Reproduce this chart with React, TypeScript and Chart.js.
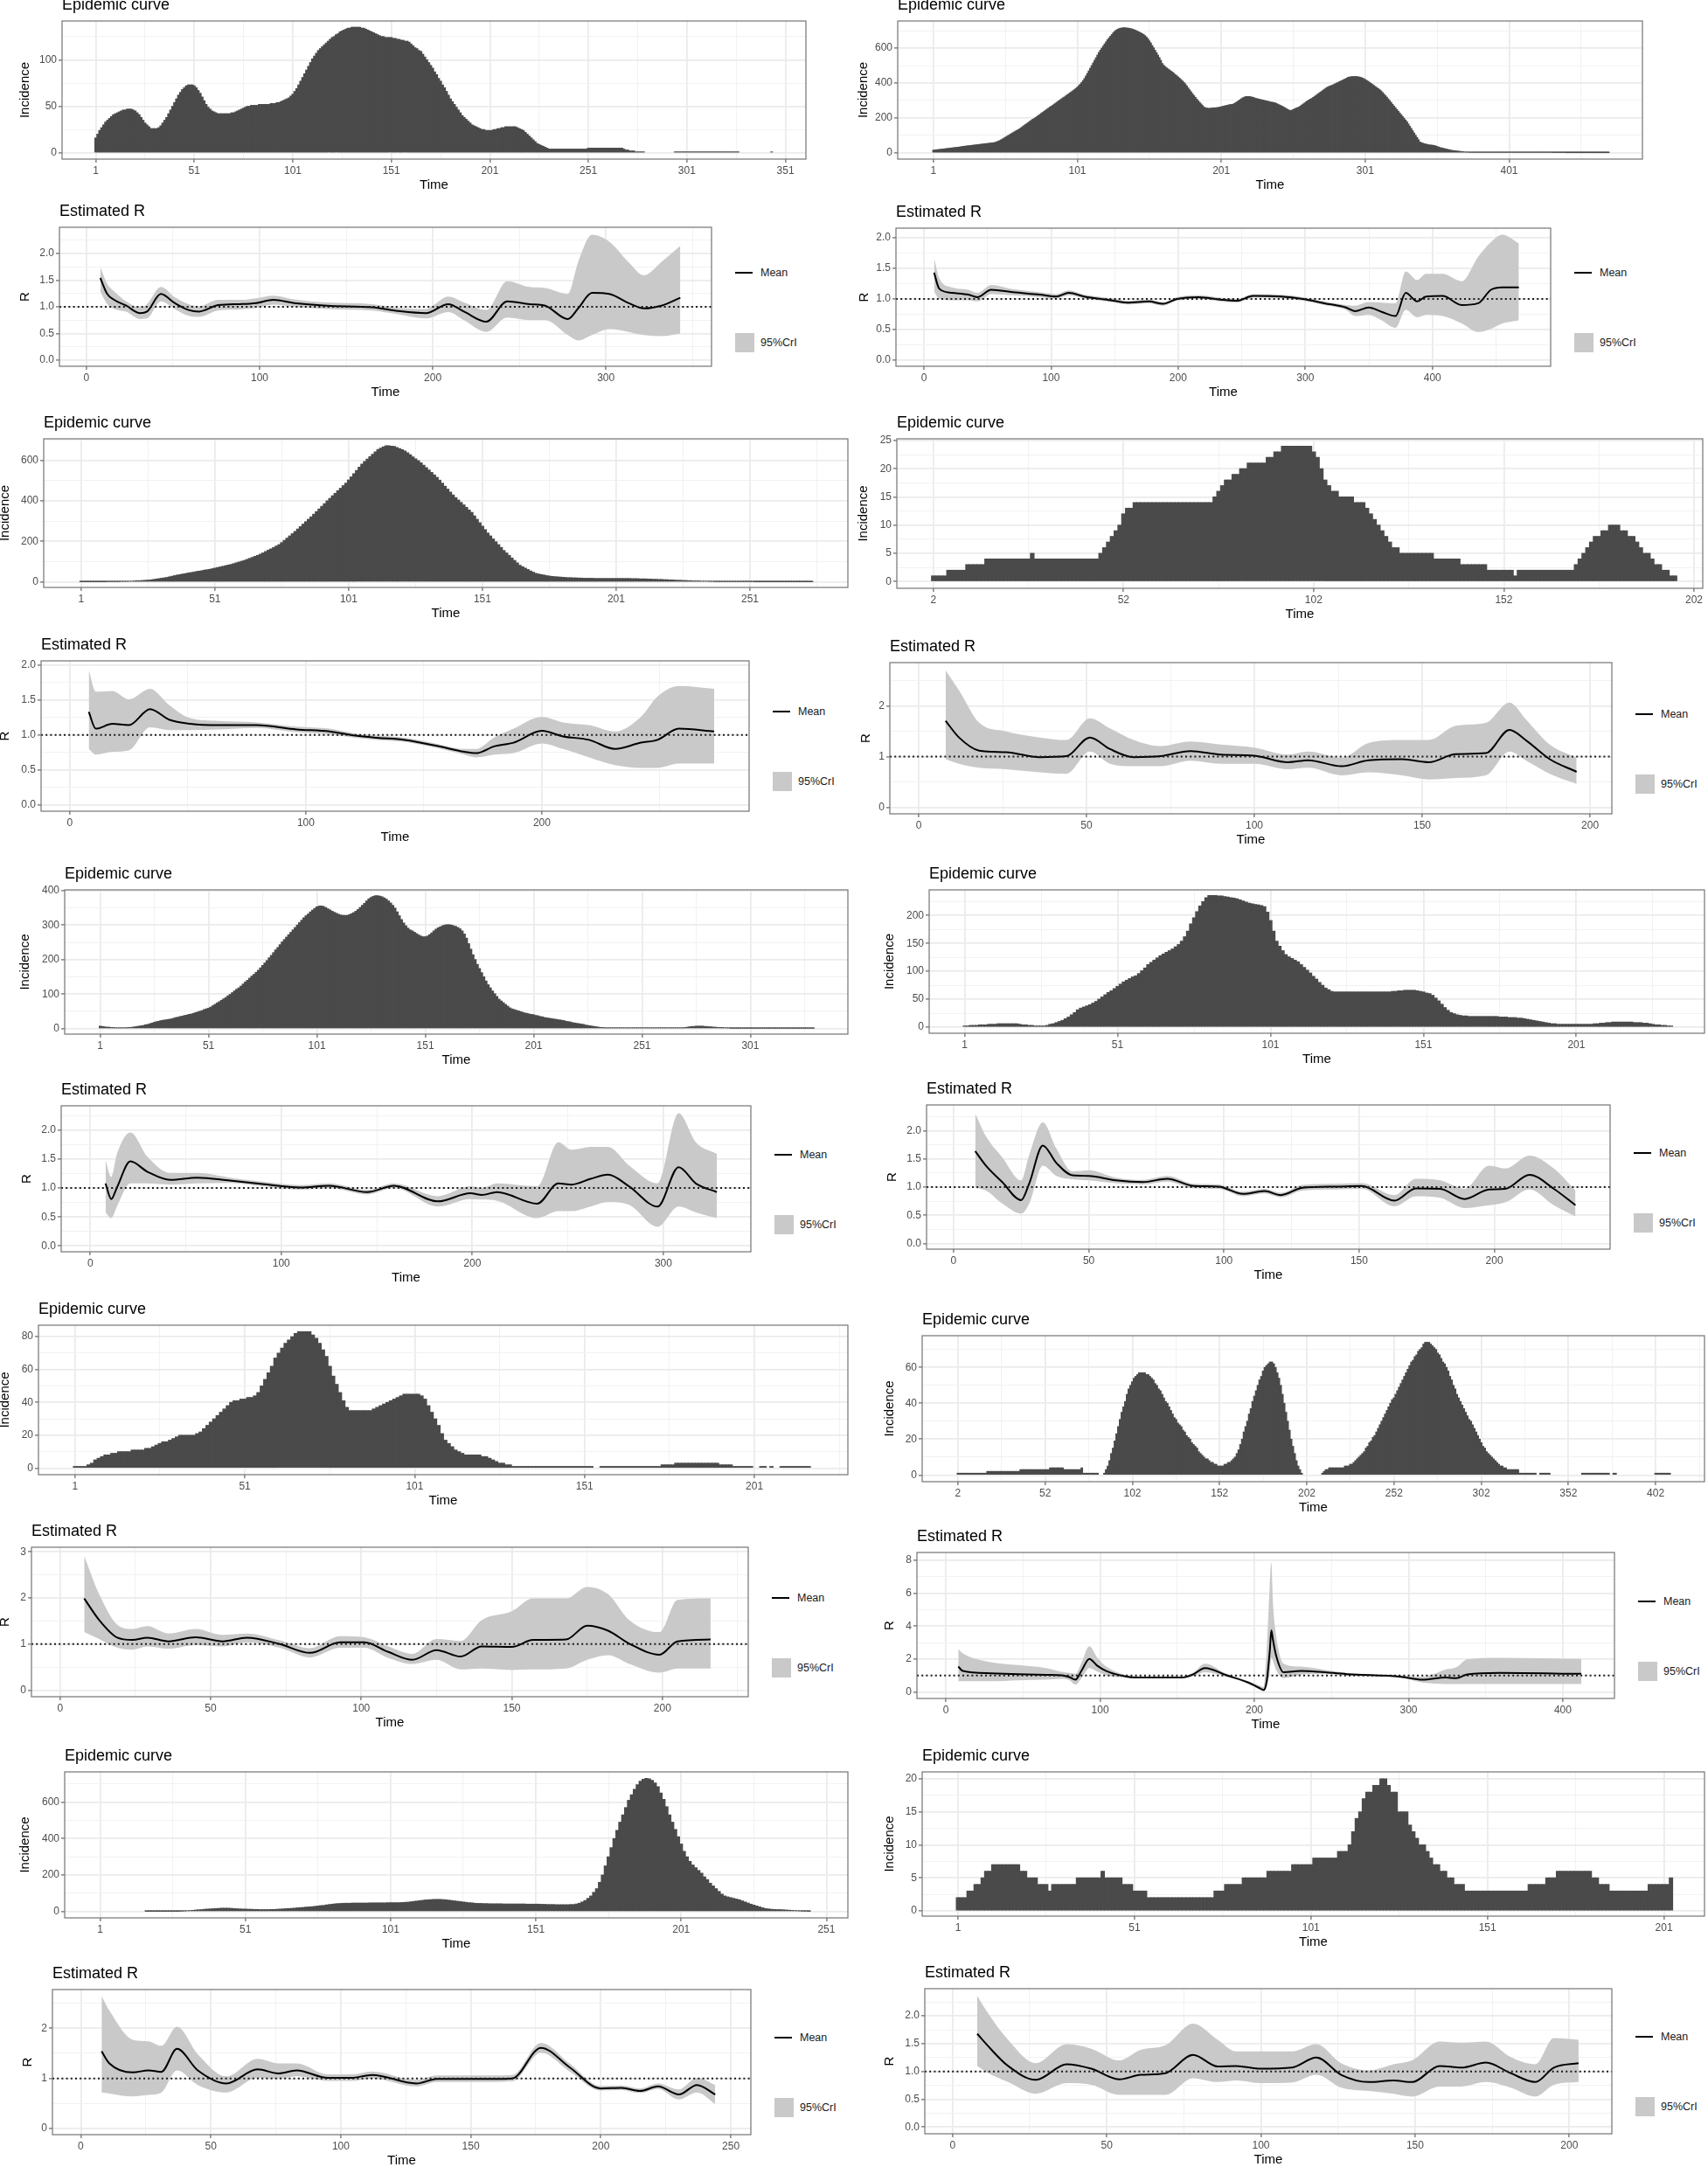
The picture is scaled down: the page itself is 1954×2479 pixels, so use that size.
import React, { useEffect, useRef } from "react";
import { Chart, registerables } from "chart.js";

Chart.register(...registerables);
Chart.defaults.font.family = "'Liberation Sans', Arial, Helvetica, sans-serif";
Chart.defaults.color = "#4D4D4D";

// ======================= DATA =======================
// ---- Epidemic curves (daily incidence, first day given by *Start) ----
const incidenceStartL1 = 1;
const incidenceL1 = [
  16,20,24,27,30,33,35,37,39,41, 42,43,44,45,46,46,47,47,47,46, 45,43,41,38,35,32,30,28,26,26,
  26,26,27,29,32,35,38,42,46,50, 54,58,62,65,68,70,72,73,73,73, 72,70,67,64,60,56,52,49,47,45,
  44,43,42,42,42,42,42,42,42,43, 43,44,45,46,47,48,49,50,50,51, 51,51,51,52,52,52,52,52,52,53,
  53,53,54,54,55,56,57,58,59,61, 63,66,69,73,77,81,85,89,93,97, 101,104,107,110,112,114,116,118,120,122,
  124,125,127,128,130,131,132,133,134,134, 135,135,135,135,135,134,134,133,132,131, 130,129,128,127,126,125,125,124,124,124,
  124,123,123,122,122,121,121,120,120,119, 117,115,113,112,110,109,106,103,100,97, 94,91,87,84,80,77,73,70,66,62,
  58,55,52,49,46,43,40,38,36,34, 32,30,29,28,27,26,25,25,24,24, 24,24,25,25,26,26,27,27,28,28,
  28,28,28,28,27,26,25,24,22,20, 18,16,14,12,10,9,8,7,6,5, 4,4,4,4,4,4,4,4,4,4,
  4,4,4,4,4,4,4,4,4,4, 5,5,5,5,5,5,5,5,5,5, 5,5,5,5,5,5,5,5,4,3,
  3,2,2,2,1,1,1,1,1,0, 0,0,0,0,0,0,0,0,0,0, 0,0,0,0,1,1,1,1,1,1,
  1,1,1,1,1,1,1,1,1,1, 1,1,1,1,1,1,1,1,1,1, 1,1,1,1,1,1,1,0,0,0,
  0,0,0,0,0,0,0,0,0,0, 0,0,0,1,
];

const incidenceStartR1 = 1;
const incidenceR1 = [
  15,16,17,18,19,20,21,22,23,24, 25,26,27,28,29,30,31,32,33,34, 36,37,38,39,40,41,42,43,44,45,
  46,47,48,49,50,51,52,53,54,55, 56,57,58,60,63,66,70,74,79,84, 89,94,99,104,109,114,119,124,128,133,
  138,144,150,156,162,168,174,180,186,192, 196,202,208,214,220,226,232,238,244,250, 256,262,267,273,279,285,291,297,303,309,
  315,320,326,332,338,344,350,356,362,369, 376,384,393,403,414,426,440,455,470,485, 500,515,530,545,560,575,588,600,612,624,
  636,648,658,668,678,688,696,703,708,712, 714,716,717,717,716,715,714,712,710,707, 704,700,696,692,688,683,678,672,664,654,
  642,630,615,602,588,574,560,546,530,512, 502,494,487,481,475,469,463,456,449,442, 435,428,420,412,404,395,384,372,361,350,
  339,328,318,308,298,289,280,271,262,258, 256,255,255,256,257,258,258,259,260,262, 264,266,268,270,272,274,276,277,278,282,
  287,292,298,304,310,315,319,322,323,323, 322,320,318,315,312,310,308,306,304,302, 300,298,296,294,292,290,289,287,284,280,
  276,272,268,264,259,254,249,245,242,244, 248,252,256,259,262,268,274,280,286,292, 298,303,308,312,318,324,330,336,342,348,
  354,360,366,372,377,381,384,387,391,395, 399,403,407,411,415,419,423,427,432,434, 436,437,437,437,437,436,434,432,429,425,
  420,415,410,404,398,392,386,380,374,368, 362,355,346,337,328,319,309,299,289,278, 268,258,248,238,228,218,208,198,188,178,
  165,152,139,126,113,100,88,75,62,58, 55,52,50,48,46,45,44,43,42,39, 36,33,30,28,26,24,22,20,18,16,
  14,13,12,11,10,9,8,7,6,5, 4,4,4,3,3,3,3,3,3,3, 3,3,3,3,3,3,3,3,3,3,
  3,3,3,3,3,3,3,3,3,3, 3,3,3,3,3,3,3,3,3,3, 3,3,3,3,3,3,3,3,3,3,
  3,3,3,3,3,3,3,3,3,3, 2,2,2,2,2,2,2,2,2,2, 1,1,1,1,1,1,1,1,1,1,
  1,1,1,1,1,1,1,1,1,1, 1,1,1,1,1,1,1,1,1,1,
];

const incidenceStartL2 = 1;
const incidenceL2 = [
  1,1,1,1,1,1,1,1,1,1, 2,2,2,2,2,3,3,3,4,4, 5,6,6,7,8,9,10,12,14,16,
  18,20,22,25,28,31,34,36,39,41, 44,46,48,51,53,55,58,60,62,65, 68,71,74,77,80,83,86,90,94,98,
  102,106,111,116,121,126,131,137,143,150, 157,163,170,177,184,194,205,216,227,238, 249,261,273,285,297,309,321,334,347,360,
  373,386,400,412,425,437,450,462,475,487, 503,518,534,550,566,581,594,606,618,630, 642,653,660,666,672,672,670,668,663,658,
  652,646,637,627,617,607,598,588,576,564, 552,540,528,516,502,487,472,458,443,429, 416,404,392,380,368,355,343,326,309,292,
  275,258,241,227,212,198,184,170,155,143, 131,118,106,94,82,75,68,61,54,48, 42,39,36,34,31,29,27,26,25,24,
  23,22,21,21,20,20,19,19,18,18, 18,18,17,17,17,17,17,17,17,17, 17,17,17,17,17,17,16,16,16,15,
  15,15,14,14,13,13,12,12,11,11, 10,10,9,8,8,7,7,6,6,5, 5,5,4,4,4,3,3,2,2,2,
  2,2,2,2,2,2,2,2,2,2, 2,2,1,1,1,1,1,1,1,1, 1,1,1,1,1,1,1,1,1,1, 1,1,1,1,
];

const incidenceStartR2 = 2;
const incidenceR2 = [
  1,1,1,1,2,2,2,2,2,3, 3,3,3,3,4,4,4,4,4,4, 4,4,4,4,4,4,5,4,4,4,
  4,4,4,4,4,4,4,4,4,4, 4,4,4,4,5,6,7,8,9,10, 12,13,13,14,14,14,14,14,14,14,
  14,14,14,14,14,14,14,14,14,14, 14,14,14,14,15,16,17,18,18,19, 19,20,20,21,21,21,21,21,22,22,
  23,23,24,24,24,24,24,24,24,24, 23,22,20,18,17,16,16,15,15,15, 15,14,14,14,13,12,11,10,9,8,
  7,6,6,5,5,5,5,5,5,5, 5,5,4,4,4,4,4,4,4,3, 3,3,3,3,3,3,2,2,2,2,
  2,2,2,1,2,2,2,2,2,2, 2,2,2,2,2,2,2,2,2,3, 4,5,6,7,8,8,9,9,10,10,
  10,9,9,8,8,7,6,5,5,4, 3,3,2,2,1,1,
];

const incidenceStartL3 = 1;
const incidenceL3 = [
  7,6,5,4,4,3,3,2,2,2, 2,2,2,3,3,4,5,6,7,8, 9,11,12,14,16,18,20,21,23,24,
  25,26,27,28,30,32,33,35,36,38, 39,41,42,44,46,48,50,52,55,57, 59,62,66,70,74,78,82,86,90,95,
  99,104,109,114,118,123,129,135,140,146, 152,157,163,169,176,183,190,197,205,212, 220,228,235,243,251,258,265,272,279,286,
  293,300,307,314,321,327,332,338,343,348, 353,355,355,354,351,347,344,340,337,334, 331,329,328,328,328,330,333,336,340,345,
  351,357,363,370,376,380,383,385,385,384, 382,379,375,370,364,357,349,338,327,316, 306,298,291,286,283,279,275,271,268,266,
  266,268,272,277,283,288,292,295,298,300, 301,301,300,298,296,293,289,283,274,262, 246,230,214,200,186,174,162,150,138,127,
  118,109,101,93,85,80,75,70,65,60, 57,55,53,51,49,47,45,44,42,41, 40,38,37,35,34,32,31,30,29,28,
  27,26,25,24,23,21,20,19,17,16, 15,14,13,12,10,9,8,7,6,5, 4,3,3,2,2,2,2,2,2,2,
  2,2,2,2,2,2,2,2,2,2, 2,2,2,2,2,2,2,2,2,2, 2,2,2,2,2,2,2,2,2,2,
  3,4,5,6,6,7,7,7,7,6, 6,5,5,4,4,3,3,3,2,2, 2,1,1,1,1,1,1,1,1,1,
  1,1,1,1,1,1,1,1,1,1, 1,1,1,1,1,1,1,1,1,1, 1,1,1,1,1,1,1,1,1,1,
];

const incidenceStartR3 = 1;
const incidenceR3 = [
  2,2,3,3,3,4,4,4,5,5, 5,6,6,6,6,6,6,6,5,4, 4,3,3,2,2,2,2,3,5,6,
  8,10,12,15,18,22,26,31,34,36, 38,40,43,46,50,54,58,62,65,69, 73,77,81,84,87,90,92,96,101,106,
  112,116,120,124,128,131,134,137,140,144, 148,154,162,172,185,196,207,217,225,232, 236,236,236,235,235,234,233,232,231,230,
  228,226,224,222,221,220,219,218,216,206, 191,172,154,145,137,130,126,123,120,117, 112,107,102,97,91,86,80,75,70,67,
  64,63,63,63,63,63,63,63,63,63, 63,63,63,63,63,63,63,63,63,63, 64,64,65,65,66,66,66,66,65,64,
  63,61,60,57,52,47,41,35,30,26, 24,22,21,20,20,19,19,19,19,19, 19,19,19,19,19,18,18,18,17,17,
  17,16,16,15,14,13,12,11,10,9, 8,7,6,6,5,5,5,5,5,5, 5,5,5,5,5,5,6,6,7,7,
  8,8,9,9,9,9,9,9,9,8, 8,8,7,7,6,5,4,4,3,3,2,2,
];

const incidenceStartL4 = 1;
const incidenceL4 = [
  1,1,1,1,2,3,5,6,7,8, 8,9,9,10,10,10,10,11,11,11, 11,12,12,13,14,15,16,16,17,18,
  19,20,20,20,20,20,21,22,24,26, 28,30,32,34,36,38,40,41,41,42, 42,43,43,44,46,50,54,58,62,67,
  70,73,76,78,80,82,83,83,83,83, 81,79,76,72,68,62,56,51,46,41, 37,35,35,35,35,35,35,35,36,37,
  38,39,40,41,42,43,44,45,45,45, 45,45,44,42,38,34,30,26,21,17, 15,13,11,10,9,8,8,8,8,8,
  7,7,6,5,4,3,3,2,2,1, 1,1,1,1,1,1,1,1,1,1, 1,1,1,1,1,1,1,1,1,1,
  1,1,1,0,0,1,1,1,1,1, 1,1,1,1,1,1,1,1,1,1, 1,1,1,2,2,2,2,3,3,3,
  3,3,3,3,3,3,3,3,3,3, 2,2,2,2,1,1,1,1,1,1, 0,0,1,1,0,1,0,0,1,1,
  1,1,1,1,1,1,1,
];

const incidenceStartR4 = 2;
const incidenceR4 = [
  1,1,1,1,1,1,1,1,1,1, 1,1,1,1,1,1,1,2,2,2, 2,2,2,2,2,2,2,2,2,2,
  2,2,2,2,2,2,3,3,3,3, 3,3,3,3,3,3,3,3,3,3, 3,3,3,4,4,4,4,4,4,4,
  4,3,3,3,3,3,3,3,3,3, 3,4,1,1,1,1,1,1,1,1, 1,0,0,0,1,3,5,8,12,15,
  19,23,27,31,35,38,41,45,48,50, 52,54,55,56,57,57,57,57,56,56, 55,54,53,51,50,48,47,45,43,41,
  40,38,36,34,32,31,29,28,27,25, 24,22,21,20,18,17,16,15,13,12, 11,10,9,9,8,7,7,6,6,5,
  5,5,5,6,6,7,7,8,9,10, 12,14,17,20,24,27,30,34,37,41, 44,47,50,53,55,58,60,61,62,63,
  63,62,60,57,54,50,45,40,35,30, 25,20,16,12,8,5,3,1,0,0, 0,0,0,0,0,0,0,0,0,1,
  2,3,3,4,4,4,4,4,4,4, 4,4,5,5,5,6,6,7,8,9, 10,11,12,13,15,16,18,19,21,22,
  24,26,28,30,32,34,36,38,40,42, 43,45,47,49,51,53,55,57,59,61, 63,64,66,67,69,70,71,73,74,74,
  74,73,72,71,70,68,67,65,63,62, 60,58,55,53,50,48,45,43,41,39, 37,35,33,31,30,28,26,24,22,20,
  18,16,15,13,12,11,10,9,8,7, 6,5,5,4,4,3,3,3,3,3, 3,3,1,1,1,1,1,1,1,1,
  1,1,0,0,1,1,1,1,1,1, 0,0,0,0,0,0,0,0,0,0, 0,0,0,0,0,0,0,0,1,1,
  1,1,1,1,1,1,1,1,1,1, 1,1,1,1,0,0,1,1,0,0, 0,0,0,0,0,0,0,0,0,0,
  0,0,0,0,0,0,0,0,0,0, 1,1,1,1,1,1,1,1,1,
];

const incidenceStartL5 = 1;
const incidenceL5 = [
  0,0,0,0,0,0,0,0,0,0, 0,0,0,0,0,0,1,1,1,1, 1,1,1,1,1,1,1,1,2,3,
  4,5,6,8,9,10,12,13,14,15, 16,17,18,18,18,17,16,15,14,13, 13,12,12,11,11,10,10,10,10,11,
  11,12,13,14,15,16,17,18,20,21, 22,24,25,26,28,30,32,33,36,38, 40,42,43,44,45,45,45,46,46,46,
  46,46,46,47,47,47,47,47,47,48, 48,48,48,48,49,50,51,53,55,57, 59,61,63,64,65,66,66,66,65,64,
  62,60,58,56,54,52,50,48,47,45, 44,44,43,43,42,42,42,42,42,41, 41,41,41,41,41,41,41,40,40,40,
  40,40,39,39,38,38,38,37,37,37, 37,37,38,38,41,45,52,60,72,85, 105,125,160,200,250,300,350,400,445,490,
  530,570,610,640,670,695,715,725,730,728, 720,705,685,650,615,575,530,490,450,410, 370,330,300,275,255,240,225,210,190,175,
  155,140,125,110,95,85,80,76,72,68, 64,58,52,46,40,35,30,25,20,16, 14,12,11,10,10,9,8,7,6,5,
  4,3,2,2,1,
];

const incidenceStartR5 = 1;
const incidenceR5 = [
  2,2,2,3,3,4,4,5,6,6, 7,7,7,7,7,7,7,7,6,6, 5,5,5,4,4,4,3,4,4,4,
  4,4,4,4,5,5,5,5,5,5, 5,6,5,5,5,5,5,4,4,4, 3,3,3,3,2,2,2,2,2,2,
  2,2,2,2,2,2,2,2,2,2, 2,2,2,3,3,3,4,4,4,4, 4,5,5,5,5,5,5,5,6,6,
  6,6,6,6,6,7,7,7,7,7, 7,8,8,8,8,8,8,8,9,9, 9,10,12,14,15,17,18,18,19,19,
  20,20,19,18,18,15,15,15,13,12, 11,10,10,9,8,7,7,6,6,5, 5,4,4,4,3,3,3,3,3,3,
  3,3,3,3,3,3,3,3,3,3, 3,3,4,4,4,4,4,5,5,5, 6,6,6,6,6,6,6,6,6,6,
  5,5,4,4,4,3,3,3,3,3, 3,3,3,3,3,3,4,4,4,4, 4,4,5,
];

// ---- Epidemic-curve tick labels ----
const xTicksIncL1 = [1, 51, 101, 151, 201, 251, 301, 351];
const yTicksIncL1 = [0, 50, 100];
const xTicksIncR1 = [1, 101, 201, 301, 401];
const yTicksIncR1 = [0, 200, 400, 600];
const xTicksIncL2 = [1, 51, 101, 151, 201, 251];
const yTicksIncL2 = [0, 200, 400, 600];
const xTicksIncR2 = [2, 52, 102, 152, 202];
const yTicksIncR2 = [0, 5, 10, 15, 20, 25];
const xTicksIncL3 = [1, 51, 101, 151, 201, 251, 301];
const yTicksIncL3 = [0, 100, 200, 300, 400];
const xTicksIncR3 = [1, 51, 101, 151, 201];
const yTicksIncR3 = [0, 50, 100, 150, 200];
const xTicksIncL4 = [1, 51, 101, 151, 201];
const yTicksIncL4 = [0, 20, 40, 60, 80];
const xTicksIncR4 = [2, 52, 102, 152, 202, 252, 302, 352, 402];
const yTicksIncR4 = [0, 20, 40, 60];
const xTicksIncL5 = [1, 51, 101, 151, 201, 251];
const yTicksIncL5 = [0, 200, 400, 600];
const xTicksIncR5 = [1, 51, 101, 151, 201];
const yTicksIncR5 = [0, 5, 10, 15, 20];

// ---- Estimated R (time, posterior mean, 95% CrI low / high) ----
const rTimeL1 = [8,12,16,23,31,35,43,51,59,65,76,89,98,108,120,139,165,180,196,209,218,231,243,256,265,278,284,292,302,313,322,332,343];
const rMeanL1 = [1.54,1.24,1.13,1.02,0.88,0.91,1.24,1.07,0.94,0.91,1.03,1.05,1.07,1.13,1.07,1.02,0.99,0.92,0.88,1.05,0.91,0.72,1.10,1.05,1.02,0.77,0.97,1.26,1.24,1.07,0.97,1.02,1.17];
const rLowL1 = [1.29,1.05,0.96,0.91,0.77,0.78,1.10,0.96,0.83,0.81,0.93,0.95,0.98,1.04,1.00,0.96,0.93,0.86,0.78,0.90,0.75,0.53,0.80,0.75,0.75,0.47,0.37,0.47,0.58,0.53,0.47,0.45,0.50];
const rHighL1 = [1.75,1.43,1.29,1.10,0.99,1.05,1.37,1.18,1.05,1.01,1.13,1.13,1.16,1.21,1.14,1.08,1.05,0.98,0.96,1.19,1.08,0.94,1.48,1.37,1.35,1.24,1.84,2.35,2.22,1.84,1.59,1.84,2.14];

const rTimeR1 = [8,12,22,35,42,53,70,91,104,114,126,147,160,177,188,199,216,233,246,259,281,298,315,332,339,350,360,371,379,388,395,408,423,436,446,455,468];
const rMeanR1 = [1.43,1.17,1.10,1.07,1.03,1.15,1.11,1.07,1.04,1.10,1.04,0.98,0.94,0.96,0.92,1.00,1.03,0.99,0.97,1.05,1.04,1.00,0.93,0.86,0.80,0.86,0.79,0.72,1.10,0.96,1.04,1.05,0.90,0.93,1.15,1.19,1.19];
const rLowR1 = [1.12,1.00,0.98,0.98,0.96,1.08,1.06,1.03,1.00,1.06,1.01,0.95,0.91,0.93,0.89,0.97,1.00,0.96,0.94,1.02,1.01,0.97,0.90,0.82,0.72,0.74,0.65,0.53,0.82,0.70,0.74,0.72,0.60,0.46,0.51,0.60,0.65];
const rHighR1 = [1.67,1.34,1.19,1.15,1.10,1.23,1.16,1.11,1.08,1.14,1.07,1.01,0.97,0.99,0.95,1.03,1.06,1.02,1.00,1.08,1.07,1.03,0.96,0.90,0.89,0.95,0.94,0.93,1.45,1.31,1.41,1.41,1.29,1.69,1.93,2.05,1.91];

const rTimeL2 = [8,11,18,25,34,42,51,63,79,96,110,121,130,142,156,167,172,180,188,200,209,220,231,242,249,258,273];
const rMeanL2 = [1.33,1.09,1.16,1.14,1.37,1.22,1.16,1.14,1.14,1.08,1.05,0.99,0.96,0.93,0.84,0.76,0.74,0.84,0.89,1.06,0.98,0.93,0.80,0.89,0.93,1.09,1.05];
const rLowL2 = [0.80,0.72,0.76,0.78,1.11,1.07,1.07,1.08,1.10,1.04,1.01,0.96,0.93,0.90,0.81,0.72,0.68,0.72,0.74,0.88,0.80,0.68,0.57,0.53,0.53,0.59,0.59];
const rHighL2 = [1.93,1.62,1.63,1.51,1.66,1.43,1.24,1.20,1.18,1.12,1.09,1.02,0.99,0.96,0.87,0.80,0.80,0.97,1.09,1.26,1.18,1.14,1.05,1.26,1.55,1.70,1.66];

const rTimeR2 = [8,12,18,26,36,44,51,57,64,72,81,90,100,110,116,126,134,144,152,160,169,176,181,188,196];
const rMeanR2 = [1.71,1.38,1.12,1.09,0.99,1.01,1.38,1.15,0.99,1.01,1.11,1.04,1.02,0.89,0.93,0.81,0.93,0.95,0.89,1.05,1.07,1.53,1.32,0.95,0.70];
const rLowR2 = [0.95,0.86,0.78,0.75,0.69,0.66,1.10,0.86,0.81,0.81,0.92,0.86,0.86,0.75,0.78,0.63,0.69,0.63,0.55,0.58,0.63,1.10,0.92,0.66,0.46];
const rHighR2 = [2.71,2.31,1.67,1.50,1.38,1.33,1.76,1.56,1.33,1.21,1.30,1.24,1.18,1.04,1.10,0.98,1.27,1.33,1.33,1.61,1.67,2.07,1.73,1.24,0.98];

const rTimeL3 = [8,11,14,21,30,42,56,73,90,110,125,145,159,182,199,205,213,234,245,252,262,271,282,297,308,317,328];
const rMeanL3 = [1.08,0.81,1.01,1.46,1.28,1.14,1.18,1.13,1.07,1.01,1.04,0.93,1.04,0.77,0.91,0.88,0.93,0.73,1.08,1.06,1.16,1.23,1.03,0.68,1.36,1.08,0.93];
const rLowL3 = [0.58,0.48,0.68,1.08,1.08,1.06,1.08,1.09,1.03,0.97,1.00,0.89,1.00,0.68,0.81,0.80,0.78,0.48,0.60,0.60,0.68,0.76,0.71,0.33,0.68,0.58,0.48];
const rHighL3 = [1.49,1.19,1.59,1.96,1.54,1.26,1.26,1.18,1.11,1.05,1.08,0.97,1.08,0.86,1.03,1.00,1.08,1.03,1.79,1.66,1.71,1.71,1.39,1.08,2.29,1.79,1.59];

const rTimeR3 = [8,12,18,25,28,33,38,44,50,60,70,79,89,98,107,115,121,129,141,151,163,171,180,189,198,204,213,222,230];
const rMeanR3 = [1.64,1.38,1.09,0.77,1.07,1.74,1.43,1.21,1.20,1.12,1.09,1.15,1.02,1.01,0.88,0.93,0.86,0.99,1.01,1.02,0.76,0.98,0.97,0.79,0.96,0.97,1.22,0.97,0.68];
const rLowR3 = [0.99,0.94,0.71,0.53,0.71,1.38,1.20,1.14,1.12,1.07,1.05,1.10,0.98,0.97,0.84,0.89,0.82,0.94,0.96,0.97,0.66,0.84,0.81,0.63,0.68,0.73,0.96,0.68,0.48];
const rHighR3 = [2.31,1.90,1.53,1.12,1.58,2.15,1.69,1.28,1.30,1.17,1.13,1.20,1.06,1.05,0.92,0.97,0.90,1.04,1.06,1.07,0.86,1.15,1.12,0.97,1.38,1.33,1.56,1.33,0.94];

const rTimeL4 = [8,13,19,24,29,36,45,54,62,73,83,93,101,109,117,125,133,140,150,157,168,175,182,189,199,205,216];
const rMeanL4 = [1.99,1.52,1.14,1.09,1.14,1.06,1.15,1.06,1.14,1.00,0.81,1.04,1.04,0.83,0.66,0.87,0.73,0.95,0.94,1.09,1.10,1.40,1.29,1.01,0.77,1.06,1.10];
const rLowL4 = [1.26,1.11,0.92,0.88,0.95,0.90,0.98,0.95,1.04,0.92,0.71,0.92,0.92,0.70,0.57,0.66,0.45,0.47,0.44,0.45,0.47,0.66,0.76,0.57,0.38,0.47,0.47];
const rHighL4 = [2.91,2.08,1.42,1.33,1.39,1.23,1.33,1.20,1.23,1.08,0.91,1.17,1.15,0.95,0.79,1.11,1.07,1.52,1.71,1.99,1.99,2.24,2.08,1.52,1.26,1.96,1.99];

const rTimeR4 = [8,11,29,47,65,75,80,84,88,93,98,104,118,128,153,160,168,182,196,203,206,208,210,211,212,214,219,230,242,260,295,309,324,331,338,359,412];
const rMeanR4 = [1.54,1.27,1.13,1.08,1.04,1.01,0.90,0.74,1.30,2.01,1.60,1.27,0.92,0.87,0.87,1.05,1.45,1.01,0.57,0.25,0.12,0.65,2.50,3.75,3.20,2.25,1.19,1.27,1.22,1.08,0.92,0.74,0.87,0.83,1.06,1.15,1.10];
const rLowR4 = [0.65,0.65,0.65,0.71,0.74,0.80,0.72,0.44,0.85,1.45,1.25,1.01,0.85,0.82,0.82,0.95,1.19,0.92,0.50,0.15,0.04,0.30,1.20,2.07,1.90,1.36,0.83,1.05,1.10,1.00,0.86,0.57,0.48,0.48,0.48,0.48,0.48];
const rHighR4 = [2.60,2.34,1.81,1.63,1.45,1.22,1.15,1.10,1.80,2.78,2.10,1.54,1.00,0.93,0.93,1.15,1.72,1.10,0.65,0.40,0.30,2.60,6.50,7.90,5.50,3.50,1.72,1.54,1.40,1.16,0.98,0.92,1.36,1.50,1.98,2.07,2.00];

const rTimeL5 = [8,11,20,26,31,37,45,56,68,76,83,95,104,112,129,137,158,166,177,188,200,208,215,222,230,237,244];
const rMeanL5 = [1.54,1.30,1.12,1.16,1.13,1.59,1.16,0.90,1.18,1.10,1.16,1.01,1.01,1.07,0.90,0.99,0.99,1.00,1.61,1.22,0.80,0.81,0.75,0.84,0.68,0.87,0.68];
const rLowL5 = [0.72,0.70,0.64,0.67,0.72,1.16,0.87,0.72,1.01,0.99,1.04,0.95,0.95,1.00,0.84,0.93,0.93,0.94,1.51,1.14,0.76,0.77,0.71,0.79,0.58,0.72,0.49];
const rHighL5 = [2.64,2.35,1.77,1.74,1.65,2.03,1.48,1.04,1.39,1.30,1.30,1.08,1.08,1.14,0.97,1.06,1.06,1.07,1.71,1.30,0.85,0.86,0.80,0.90,0.78,1.01,0.87];

const rTimeR5 = [8,11,18,27,37,45,54,61,69,78,86,92,100,110,118,126,135,143,149,158,165,173,181,189,195,203];
const rMeanR5 = [1.68,1.49,1.10,0.85,1.13,1.05,0.86,0.94,0.97,1.30,1.09,1.10,1.05,1.07,1.25,0.94,0.81,0.84,0.81,1.10,1.07,1.16,0.97,0.81,1.07,1.15];
const rLowR5 = [1.10,0.99,0.81,0.60,0.79,0.76,0.58,0.58,0.58,0.88,0.81,0.84,0.79,0.80,0.94,0.71,0.65,0.60,0.55,0.73,0.73,0.81,0.71,0.55,0.76,0.81];
const rHighR5 = [2.36,2.09,1.57,1.15,1.49,1.41,1.20,1.39,1.47,1.86,1.57,1.36,1.36,1.36,1.49,1.15,1.02,1.13,1.20,1.54,1.52,1.54,1.26,1.13,1.60,1.57];

// ---- Estimated-R tick labels ----
const xTicksRL1 = [0, 100, 200, 300];
const xTicksRR1 = [0, 100, 200, 300, 400];
const xTicksRL2 = [0, 100, 200];
const xTicksRR2 = [0, 50, 100, 150, 200];
const xTicksRL3 = [0, 100, 200, 300];
const xTicksRR3 = [0, 50, 100, 150, 200];
const xTicksRL4 = [0, 50, 100, 150, 200];
const xTicksRR4 = [0, 100, 200, 300, 400];
const xTicksRL5 = [0, 50, 100, 150, 200, 250];
const xTicksRR5 = [0, 50, 100, 150, 200];
const yTicksRHalf = [0, 0.5, 1, 1.5, 2];
const yTicksRInt2 = [0, 1, 2];
const yTicksRInt3 = [0, 1, 2, 3];
const yTicksREven = [0, 2, 4, 6, 8];

const R_REFERENCE = 1;

// ======================= LAYOUT (pixels of the page) =======================
const epiPanels = [
  { box: { l: 71, r: 922, t: 24, b: 182 }, xr: [-16.1, 361.4], yr: [-6.75, 141.75], gap: 42, start: incidenceStartL1, values: incidenceL1, xt: xTicksIncL1, yt: yTicksIncL1 },
  { box: { l: 1027, r: 1879, t: 24, b: 182 }, xr: [-23.8, 493.6], yr: [-36, 756], gap: 39, start: incidenceStartR1, values: incidenceR1, xt: xTicksIncR1, yt: yTicksIncR1 },
  { box: { l: 50, r: 970, t: 502, b: 672 }, xr: [-13, 287.6], yr: [-27, 706], gap: 44, start: incidenceStartL2, values: incidenceL2, xt: xTicksIncL2, yt: yTicksIncL2 },
  { box: { l: 1026, r: 1948, t: 502, b: 673 }, xr: [-7.6, 204.3], yr: [-1.2, 25.3], gap: 38, start: incidenceStartR2, values: incidenceR2, xt: xTicksIncR2, yt: yTicksIncR2 },
  { box: { l: 74, r: 970, t: 1018, b: 1183 }, xr: [-15.4, 346], yr: [-16, 402], gap: 45, start: incidenceStartL3, values: incidenceL3, xt: xTicksIncL3, yt: yTicksIncL3 },
  { box: { l: 1063, r: 1950, t: 1018, b: 1182 }, xr: [-10.6, 242.9], yr: [-11, 246], gap: 45, start: incidenceStartR3, values: incidenceR3, xt: xTicksIncR3, yt: yTicksIncR3 },
  { box: { l: 44, r: 970, t: 1516, b: 1687 }, xr: [-9.75, 228.5], yr: [-4, 87], gap: 38, start: incidenceStartL4, values: incidenceL4, xt: xTicksIncL4, yt: yTicksIncL4 },
  { box: { l: 1055, r: 1950, t: 1528, b: 1695 }, xr: [-18.5, 430], yr: [-3.7, 77.7], gap: 37, start: incidenceStartR4, values: incidenceR4, xt: xTicksIncR4, yt: yTicksIncR4 },
  { box: { l: 74, r: 970, t: 2027, b: 2194 }, xr: [-11.2, 258.4], yr: [-35, 766], gap: 45, start: incidenceStartL5, values: incidenceL5, xt: xTicksIncL5, yt: yTicksIncL5 },
  { box: { l: 1055, r: 1950, t: 2027, b: 2192 }, xr: [-9.15, 212.5], yr: [-0.8, 21.06], gap: 37, start: incidenceStartR5, values: incidenceR5, xt: xTicksIncR5, yt: yTicksIncR5 },
];

const rPanels = [
  { box: { l: 68, r: 814, t: 260, b: 419 }, xr: [-15.6, 361], yr: [-0.115, 2.49], gap: 39, dec: 1, t: rTimeL1, m: rMeanL1, lo: rLowL1, hi: rHighL1, xt: xTicksRL1, yt: yTicksRHalf },
  { box: { l: 1025, r: 1774, t: 261, b: 419 }, xr: [-22, 493], yr: [-0.1, 2.157], gap: 36, dec: 1, t: rTimeR1, m: rMeanR1, lo: rLowR1, hi: rHighR1, xt: xTicksRR1, yt: yTicksRHalf },
  { box: { l: 47, r: 857, t: 756, b: 928 }, xr: [-12.2, 287.8], yr: [-0.09, 2.06], gap: 41, dec: 1, t: rTimeL2, m: rMeanL2, lo: rLowL2, hi: rHighL2, xt: xTicksRL2, yt: yTicksRHalf },
  { box: { l: 1018, r: 1844, t: 758, b: 931 }, xr: [-8.6, 206.5], yr: [-0.13, 2.86], gap: 27, dec: 0, t: rTimeR2, m: rMeanR2, lo: rLowR2, hi: rHighR2, xt: xTicksRR2, yt: yTicksRInt2 },
  { box: { l: 70, r: 859, t: 1265, b: 1432 }, xr: [-15.2, 345.8], yr: [-0.1, 2.42], gap: 39, dec: 1, t: rTimeL3, m: rMeanL3, lo: rLowL3, hi: rHighL3, xt: xTicksRL3, yt: yTicksRHalf },
  { box: { l: 1060, r: 1842, t: 1264, b: 1429 }, xr: [-10, 242.8], yr: [-0.1, 2.46], gap: 39, dec: 1, t: rTimeR3, m: rMeanR3, lo: rLowR3, hi: rHighR3, xt: xTicksRR3, yt: yTicksRHalf },
  { box: { l: 36, r: 856, t: 1770, b: 1941 }, xr: [-9.5, 228.5], yr: [-0.14, 3.1], gap: 30, dec: 0, t: rTimeL4, m: rMeanL4, lo: rLowL4, hi: rHighL4, xt: xTicksRL4, yt: yTicksRInt3 },
  { box: { l: 1049, r: 1847, t: 1776, b: 1943 }, xr: [-18.8, 433.5], yr: [-0.4, 8.48], gap: 31, dec: 0, t: rTimeR4, m: rMeanR4, lo: rLowR4, hi: rHighR4, xt: xTicksRR4, yt: yTicksREven },
  { box: { l: 60, r: 859, t: 2276, b: 2442 }, xr: [-10.9, 257.7], yr: [-0.12, 2.77], gap: 28, dec: 0, t: rTimeL5, m: rMeanL5, lo: rLowL5, hi: rHighL5, xt: xTicksRL5, yt: yTicksRInt2 },
  { box: { l: 1058, r: 1844, t: 2275, b: 2441 }, xr: [-9, 213.8], yr: [-0.12, 2.49], gap: 40, dec: 1, t: rTimeR5, m: rMeanR5, lo: rLowR5, hi: rHighR5, xt: xTicksRR5, yt: yTicksRHalf },
];

// ======================= STYLE HELPERS =======================
const TITLE_BLOCK = 36;
const XAXIS_BLOCK = 41;
const RIGHT_PAD = 20;
const BAR_COLOR = "#4A4A4A";
const BAND_COLOR = "#C9C9C9";
const GRID_COLOR = "#EBEBEB";
const MINOR_COLOR = "#F1F1F1";

function tickList(majors: number[], min: number, max: number) {
  const step = majors.length > 1 ? majors[1] - majors[0] : 1;
  const half = step / 2;
  const first = majors[0] - half;
  const n = Math.ceil((max - first) / half) + 1;
  const out: { value: number; minor: boolean }[] = [];
  for (let i = 0; i <= n; i++) {
    const v = +(first + i * half).toFixed(6);
    if (v < min - 1e-9 || v > max + 1e-9) continue;
    const isMajor = majors.some((m) => Math.abs(m - v) < 1e-6);
    out.push({ value: v, minor: !isMajor });
  }
  return out;
}

function axis(o: any) {
  const list = tickList(o.majors, o.min, o.max);
  return {
    type: "linear",
    min: o.min,
    max: o.max,
    bounds: "data",
    offset: false,
    afterBuildTicks: (s: any) => {
      s.ticks = list.map((t) => ({ value: t.value, minor: t.minor }));
    },
    afterFit: (s: any) => {
      if (o.isX) s.height = o.fixed;
      else s.width = o.fixed;
    },
    grid: {
      offset: false,
      drawOnChartArea: true,
      drawTicks: true,
      tickLength: 4,
      color: (c: any) => (c.tick && c.tick.minor ? MINOR_COLOR : GRID_COLOR),
      lineWidth: (c: any) => (c.tick && c.tick.minor ? 0.9 : 1.8),
      tickColor: (c: any) => (c.tick && c.tick.minor ? "rgba(0,0,0,0)" : "#555555"),
      tickWidth: 1.1,
    },
    border: { display: false },
    ticks: {
      autoSkip: false,
      maxRotation: 0,
      minRotation: 0,
      padding: 2,
      color: "#4D4D4D",
      font: { size: 12 },
      callback: (v: number, i: number, arr: any[]) => (arr[i] && arr[i].minor ? "" : o.fmt(v)),
    },
    title: {
      display: true,
      text: o.title,
      color: "#000000",
      font: { size: 15 },
      padding: { top: 2, bottom: 2 },
    },
  };
}

const titleOpts = (text: string) => ({
  display: true,
  text,
  align: "start",
  fullSize: false,
  color: "#000000",
  font: { size: 18, weight: "normal", lineHeight: 1.2 },
  padding: { top: 7, bottom: 7.4 },
});

const framePlugin = {
  id: "panelFrame",
  afterDraw(chart: any) {
    const { ctx, chartArea: a } = chart;
    ctx.save();
    ctx.strokeStyle = "#747474";
    ctx.lineWidth = 1.2;
    ctx.strokeRect(a.left, a.top, a.right - a.left, a.bottom - a.top);
    ctx.restore();
  },
};

const refLinePlugin = {
  id: "refLine",
  afterDatasetsDraw(chart: any) {
    const { ctx, chartArea: a, scales } = chart;
    const y = scales.y.getPixelForValue(R_REFERENCE);
    ctx.save();
    ctx.beginPath();
    ctx.rect(a.left, a.top, a.right - a.left, a.bottom - a.top);
    ctx.clip();
    ctx.strokeStyle = "#1a1a1a";
    ctx.lineWidth = 2;
    ctx.setLineDash([2, 3.2]);
    ctx.beginPath();
    ctx.moveTo(a.left, y);
    ctx.lineTo(a.right, y);
    ctx.stroke();
    ctx.restore();
  },
};

function geometry(box: any, gap: number) {
  const left = box.l - (gap + 11);
  const top = box.t - TITLE_BLOCK;
  return { left, top, width: box.r + RIGHT_PAD - left, height: box.b + XAXIS_BLOCK - top };
}

const fmtPlain = (v: number) => String(Math.round(v));

function epiConfig(p: any) {
  // days with zero cases draw no bar
  const data = p.values.map((v: number, i: number) => ({ x: p.start + i, y: v > 0 ? v : null }));
  return {
    type: "bar",
    data: {
      datasets: [
        { data, backgroundColor: BAR_COLOR, borderWidth: 0, barPercentage: 1, categoryPercentage: 1, inflateAmount: 0.45 },
      ],
    },
    options: {
      animation: false,
      responsive: false,
      devicePixelRatio: 1,
      events: [],
      layout: { padding: { left: 0, right: RIGHT_PAD, top: 0, bottom: 0 } },
      plugins: { legend: { display: false }, tooltip: { enabled: false }, title: titleOpts("Epidemic curve") },
      scales: {
        x: axis({ min: p.xr[0], max: p.xr[1], majors: p.xt, fmt: fmtPlain, title: "Time", isX: true, fixed: XAXIS_BLOCK }),
        y: axis({ min: p.yr[0], max: p.yr[1], majors: p.yt, fmt: fmtPlain, title: "Incidence", isX: false, fixed: p.gap + 11 }),
      },
    },
    plugins: [framePlugin],
  };
}

function rConfig(p: any) {
  const pts = (arr: number[]) => p.t.map((t: number, i: number) => ({ x: t, y: arr[i] }));
  const fmt = p.dec ? (v: number) => v.toFixed(1) : fmtPlain;
  return {
    type: "line",
    data: {
      datasets: [
        { label: "95%CrI", order: 3, data: pts(p.hi), borderColor: "rgba(0,0,0,0)", borderWidth: 0, pointRadius: 0, fill: "+1", backgroundColor: BAND_COLOR, cubicInterpolationMode: "monotone" },
        { label: "low", order: 2, data: pts(p.lo), borderColor: "rgba(0,0,0,0)", borderWidth: 0, pointRadius: 0, fill: false, cubicInterpolationMode: "monotone" },
        { label: "Mean", order: 0, data: pts(p.m), borderColor: "#000000", borderWidth: 2, pointRadius: 0, fill: false, cubicInterpolationMode: "monotone" },
      ],
    },
    options: {
      animation: false,
      responsive: false,
      devicePixelRatio: 1,
      events: [],
      layout: { padding: { left: 0, right: RIGHT_PAD, top: 0, bottom: 0 } },
      plugins: { legend: { display: false }, tooltip: { enabled: false }, title: titleOpts("Estimated R") },
      scales: {
        x: axis({ min: p.xr[0], max: p.xr[1], majors: p.xt, fmt: fmtPlain, title: "Time", isX: true, fixed: XAXIS_BLOCK }),
        y: axis({ min: p.yr[0], max: p.yr[1], majors: p.yt, fmt, title: "R", isX: false, fixed: p.gap + 11 }),
      },
    },
    plugins: [framePlugin, refLinePlugin],
  };
}

function ChartCanvas({ make, geo }: any) {
  const ref = useRef<HTMLCanvasElement | null>(null);
  useEffect(() => {
    const chart = new Chart(ref.current as any, make() as any);
    return () => chart.destroy();
  }, []);
  return (
    <canvas
      ref={ref}
      width={geo.width}
      height={geo.height}
      style={{ position: "absolute", left: geo.left, top: geo.top, width: geo.width, height: geo.height }}
    />
  );
}

const legendFont: any = { fontFamily: "'Liberation Sans', Arial, sans-serif", fontSize: 12.5, color: "#1a1a1a", lineHeight: "16px" };

function RLegend({ box }: any) {
  const x = box.r + 27;
  const mid = (box.t + box.b) / 2;
  const meanY = mid - 28;
  const criY = mid + 52;
  return (
    <>
      <div style={{ position: "absolute", left: x, top: meanY - 1, width: 20, height: 2, background: "#000" }} />
      <div style={{ position: "absolute", left: x + 29, top: meanY - 8, ...legendFont }}>Mean</div>
      <div style={{ position: "absolute", left: x, top: criY - 11, width: 22, height: 22, background: BAND_COLOR }} />
      <div style={{ position: "absolute", left: x + 29, top: criY - 8, ...legendFont }}>95%CrI</div>
    </>
  );
}

export default function App() {
  return (
    <div style={{ position: "absolute", left: 0, top: 0, width: 1954, height: 2479, overflow: "hidden", background: "#ffffff" }}>
      {epiPanels.map((p, i) => (
        <ChartCanvas key={"e" + i} make={() => epiConfig(p)} geo={geometry(p.box, p.gap)} />
      ))}
      {rPanels.map((p, i) => (
        <React.Fragment key={"r" + i}>
          <ChartCanvas make={() => rConfig(p)} geo={geometry(p.box, p.gap)} />
          <RLegend box={p.box} />
        </React.Fragment>
      ))}
    </div>
  );
}
